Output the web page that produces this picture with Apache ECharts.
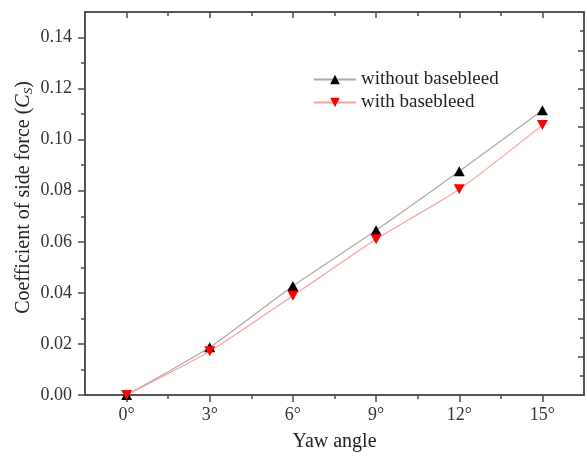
<!DOCTYPE html>
<html>
<head>
<meta charset="utf-8">
<script src="https://cdn.jsdelivr.net/npm/echarts@6/dist/echarts.min.js"></script>
<style>
  html, body { margin: 0; padding: 0; background: #fff; }
  #chart { width: 587px; height: 457px; }
</style>
</head>
<body>
<div id="chart"></div>
<script>
// 数据
const yawAngles = [0, 3, 6, 9, 12, 15];
const withoutBasebleed = [0, 0.0187, 0.0427, 0.0645, 0.0876, 0.1115];
const withBasebleed = [0, 0.0171, 0.0389, 0.0610, 0.0806, 0.1057];

// 刻度
const xMajorTicks = [0, 3, 6, 9, 12, 15];
const xMinorTicks = [1.5, 4.5, 7.5, 10.5, 13.5];
const yMajorTicks = [0, 0.02, 0.04, 0.06, 0.08, 0.10, 0.12, 0.14];
const yMinorTicks = [0.01, 0.03, 0.05, 0.07, 0.09, 0.11, 0.13];
const rightMajorTicks = [0.015, 0.03, 0.045, 0.06, 0.075, 0.09, 0.105, 0.12, 0.135];
const rightMinorTicks = [0.0075, 0.0225, 0.0375, 0.0525, 0.0675, 0.0825, 0.0975, 0.1125, 0.1275, 0.1425];

const font = 'Liberation Serif';
const axisColor = '#4a4a4a';

const myChart = echarts.init(document.getElementById('chart'));

function xAx(position, ticks, len, inside, opts) {
    return Object.assign({
        type: 'value',
        position: position,
        min: -1.5,
        max: 16.5,
        splitLine: {show: false},
        axisLine: {show: true, onZero: false, lineStyle: {color: axisColor, width: 1.5}},
        axisTick: {show: true, inside: inside, length: len, customValues: ticks,
            lineStyle: {color: axisColor, width: 1.5}},
        axisLabel: {show: false}
    }, opts || {});
}

function yAx(position, ticks, len, inside, opts) {
    return Object.assign({
        type: 'value',
        position: position,
        min: 0,
        max: 0.15,
        splitLine: {show: false},
        axisLine: {show: true, onZero: false, lineStyle: {color: axisColor, width: 1.5}},
        axisTick: {show: true, inside: inside, length: len, customValues: ticks,
            lineStyle: {color: axisColor, width: 1.5}},
        axisLabel: {show: false}
    }, opts || {});
}

const option = {
    backgroundColor: '#fff',
    animation: false,
    grid: {left: 85, right: 3, top: 12, bottom: 59},
    legend: {
        orient: 'vertical',
        left: 308,
        top: 65,
        itemWidth: 42,
        itemHeight: 12,
        itemGap: 4,
        textStyle: {fontFamily: font, fontSize: 19, color: '#222'},
        data: ['without basebleed', 'with basebleed']
    },
    xAxis: [
        xAx('bottom', xMajorTicks, 7, false, {
            name: 'Yaw angle',
            nameLocation: 'middle',
            nameGap: 37,
            nameTextStyle: {fontFamily: font, fontSize: 20, color: '#222'},
            axisLabel: {
                show: true, customValues: xMajorTicks, margin: 11,
                fontFamily: font, fontSize: 18, color: '#333',
                formatter: v => v + '°'
            }
        }),
        xAx('bottom', xMinorTicks, 4, false),
        xAx('top', xMajorTicks, 6, true),
        xAx('top', xMinorTicks, 4, true)
    ],
    yAxis: [
        yAx('left', yMajorTicks, 7, false, {
            name: 'Coefficient of side force ({i|C}{s|S})',
            nameLocation: 'middle',
            nameGap: 50,
            nameMoveOverlap: false,
            nameTextStyle: {
                fontFamily: font, fontSize: 20, color: '#222',
                padding: [0, 0, 0, 12],
                rich: {
                    i: {fontFamily: font, fontSize: 20, fontStyle: 'italic', color: '#222'},
                    s: {fontFamily: font, fontSize: 13, fontStyle: 'italic', color: '#222', verticalAlign: 'bottom', padding: [9, 0, 0, 0]}
                }
            },
            axisLabel: {
                show: true, customValues: yMajorTicks, margin: 13,
                fontFamily: font, fontSize: 18, color: '#333',
                formatter: v => v.toFixed(2)
            }
        }),
        yAx('left', yMinorTicks, 4, false),
        yAx('right', rightMajorTicks, 6, true),
        yAx('right', rightMinorTicks, 4, true)
    ],
    series: [
        {
            name: 'without basebleed',
            type: 'line',
            smooth: 0.2,
            clip: false,
            symbol: 'triangle',
            symbolSize: [11, 10],
            itemStyle: {color: '#000'},
            lineStyle: {color: '#aaaaaa', width: 1.2},
            data: yawAngles.map((x, i) => [x, withoutBasebleed[i]])
        },
        {
            name: 'with basebleed',
            type: 'line',
            smooth: 0.2,
            clip: false,
            symbol: 'triangle',
            symbolRotate: 180,
            symbolSize: [11, 10],
            itemStyle: {color: '#ff0000'},
            lineStyle: {color: '#ff9c9c', width: 1.2},
            data: yawAngles.map((x, i) => [x, withBasebleed[i]])
        }
    ]
};

myChart.setOption(option);
</script>
</body>
</html>
